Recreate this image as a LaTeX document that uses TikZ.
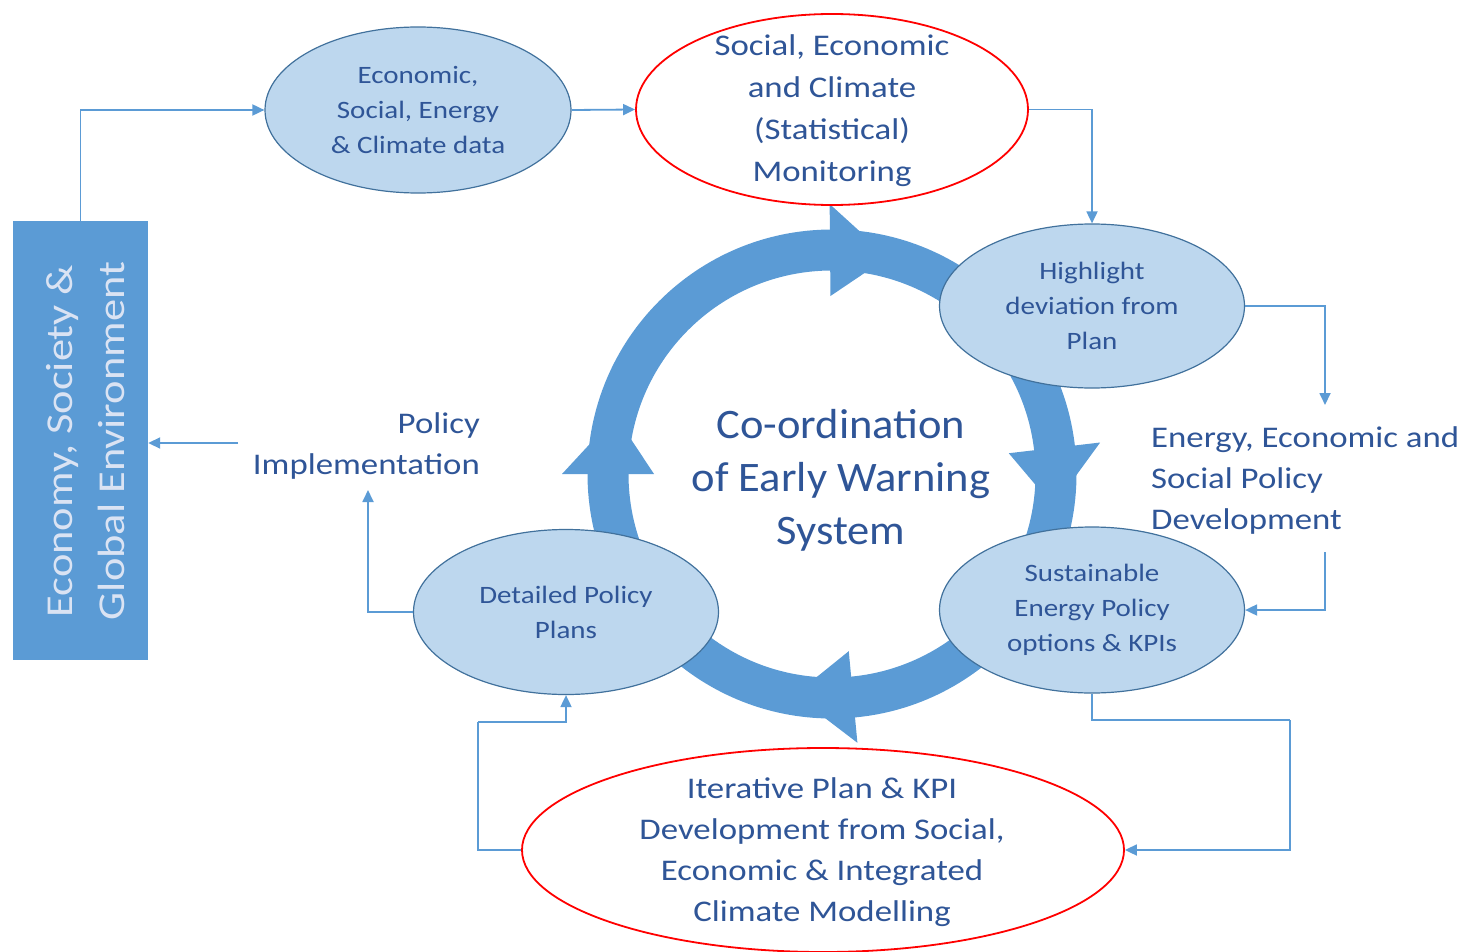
\documentclass[tikz,border=0pt]{standalone}
\usepackage{fontspec}
\setmainfont{Carlito}
\newfontfamily\widefont[FakeStretch=1.16]{Carlito}
\newfontfamily\ctrfont[FakeStretch=1.06]{Carlito}
\newfontfamily\boxfont[FakeStretch=1.17]{Carlito}
\usetikzlibrary{shapes.geometric,arrows.meta}
\definecolor{ringblue}{HTML}{5B9BD5}
\definecolor{ellfill}{HTML}{BDD7EE}
\definecolor{elldraw}{HTML}{41719C}
\definecolor{txtblue}{HTML}{2F5597}
\definecolor{boxtxt}{HTML}{DAE3F3}
\definecolor{redline}{HTML}{FF0000}
\tikzset{
  ell/.style={ellipse, draw=elldraw, line width=1.2pt, fill=ellfill, inner sep=0pt},
  redell/.style={ellipse, draw=redline, line width=1.8pt, fill=white, inner sep=0pt},
  smalltxt/.style={align=center, text=txtblue, font=\widefont\fontsize{25}{35}\selectfont, inner sep=0pt},
  redtxt/.style={align=center, text=txtblue, font=\widefont\fontsize{30}{42}\selectfont, inner sep=0pt},
  freetxt/.style={text=txtblue, font=\widefont\fontsize{30}{40.5}\selectfont, inner sep=0pt},
  conn/.style={draw=ringblue, line width=1.8pt, -{Triangle[length=12pt,width=11pt]}},
  plain/.style={draw=ringblue, line width=1.8pt},
  headtri/.style={fill=ringblue, draw=none}
}
\begin{document}
\begin{tikzpicture}[x=1pt,y=-1pt]
\useasboundingbox (0,0) rectangle (1463,952);
% ring with arrow heads
\begin{scope}[shift={(832,474)}, yscale=-1]
  \draw[ringblue, line width=41pt] (0,0) circle (224);
  \fill[headtri] (90.5:270) -- (90.5:178) -- (75.5:224) -- cycle;
  \fill[headtri] (6.7:270) -- (6.7:178) -- (-8.3:224) -- cycle;
  \fill[headtri] (275.4:270) -- (275.4:178) -- (260.4:224) -- cycle;
  \fill[headtri] (180:270) -- (180:178) -- (165:224) -- cycle;
\end{scope}
% box
\node[fill=ringblue, minimum width=135pt, minimum height=439pt, inner sep=0pt] (box) at (80.5,440.5) {};
\node[rotate=90, align=center, text=boxtxt, font=\boxfont\fontsize{38}{52}\selectfont, inner sep=0pt] (boxt) at (86,441) {Economy, Society \&\\Global Environment};
% ellipses
\node[ell, minimum width=306pt, minimum height=166pt] (e1) at (418,110) {};
\node[smalltxt] (t1) at (e1) {Economic,\\Social, Energy\\\& Climate data};
\node[redell, minimum width=392pt, minimum height=191pt] (e2) at (832,109.5) {};
\node[redtxt] (t2) at (832,111) {Social, Economic\\and Climate\\(Statistical)\\Monitoring};
\node[ell, minimum width=305pt, minimum height=164pt] (e3) at (1092,306) {};
\node[smalltxt] (t3) at (e3) {Highlight\\deviation from\\Plan};
\node[ell, minimum width=305pt, minimum height=166pt] (e4) at (1092,610) {};
\node[smalltxt] (t4) at (e4) {Sustainable\\Energy Policy\\options \& KPIs};
\node[ell, minimum width=305pt, minimum height=165pt] (e5) at (566,612) {};
\node[smalltxt] (t5) at (e5) {Detailed Policy\\Plans};
\node[redell, minimum width=602pt, minimum height=204pt] (e6) at (823,850) {};
\node[redtxt, font=\widefont\fontsize{30}{41}\selectfont] (t6) at (822,852) {Iterative Plan \& KPI\\Development from Social,\\Economic \& Integrated\\Climate Modelling};
% centre text
\node[align=center, text=txtblue, font=\ctrfont\fontsize{42}{53}\selectfont, inner sep=0pt] (ctr) at (841,480) {Co-ordination\\of Early Warning\\System};
% free texts
\node[freetxt, align=right, anchor=east] (pol) at (480,446) {Policy\\Implementation};
\node[freetxt, align=left, anchor=west, font=\widefont\fontsize{30}{41}\selectfont] (eng) at (1151,480) {Energy, Economic and\\Social Policy\\Development};
% coordinates
\coordinate (c1) at (1325,405);
\coordinate (c2) at (1325,552);
\coordinate (c3) at (1290,720);
\coordinate (c4) at (478,722);
\coordinate (c5) at (368,490);
\coordinate (c6) at (238,443);
% connectors
\draw[conn] (box.north) |- (e1.west);
\draw[conn] (e1.east) -- (e2.west);
\draw[conn] (e2.east) -| (e3.north);
\draw[conn] (e3.east) -| (c1);
\draw[conn] (c2) |- (e4.east);
\draw[plain] (e4.south) |- (c3);
\draw[conn] (c3) |- (e6.east);
\draw[plain] (e6.west) -| (c4);
\draw[conn] (c4) -| (e5.south);
\draw[conn] (e5.west) -| (c5);
\draw[conn] (c6) -- (box.east |- c6);
\end{tikzpicture}
\end{document}
